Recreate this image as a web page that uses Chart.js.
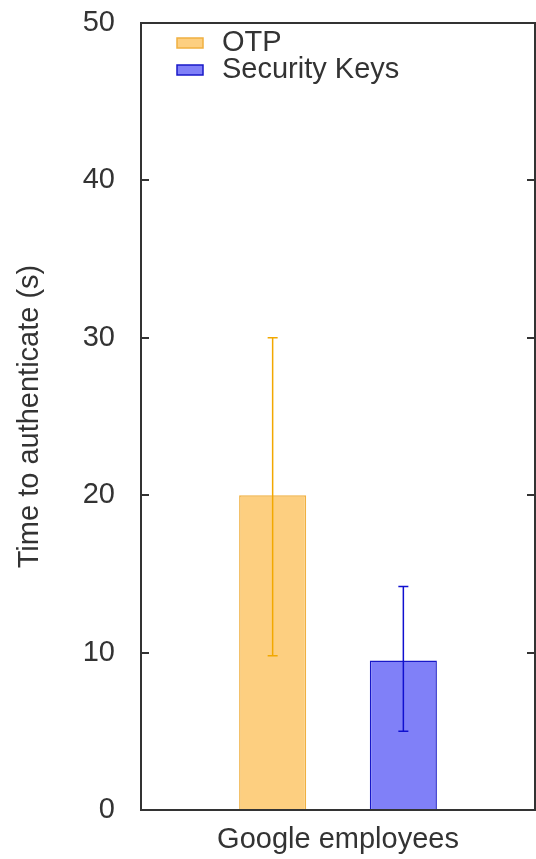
<!DOCTYPE html>
<html>
<head>
<meta charset="utf-8">
<script src="https://cdn.jsdelivr.net/npm/chart.js@4/dist/chart.umd.min.js"></script>
<style>
  html, body { margin: 0; padding: 0; background: #ffffff; overflow: hidden; }
  #c { display: block; }
</style>
</head>
<body>
<canvas id="c" width="536" height="859"></canvas>
<script>
// ---- data ----
const categories = ['Google employees'];
const seriesNames = ['OTP', 'Security Keys'];
const otpMean = [20];
const otpLow = [9.8];
const otpHigh = [30];
const keysMean = [9.5];
const keysLow = [5.0];
const keysHigh = [14.2];
const yTicks = [0, 10, 20, 30, 40, 50];

// ---- styles ----
const FONT = 'Liberation Sans, Arial, sans-serif';
const FS = 29;
const TEXT = '#333333';
const FRAME = '#333333';

const errorBars = [
  { low: otpLow, high: otpHigh, color: '#f2a800' },
  { low: keysLow, high: keysHigh, color: '#1010d0' }
];

const framePlugin = {
  id: 'frame',
  afterDatasetsDraw(chart) {
    const { ctx, chartArea: a, scales } = chart;
    const y = scales.y;
    // error bars
    chart.data.datasets.forEach((ds, i) => {
      const meta = chart.getDatasetMeta(i);
      const eb = errorBars[i];
      meta.data.forEach((bar, j) => {
        const x = bar.x;
        const yl = y.getPixelForValue(eb.low[j]);
        const yh = y.getPixelForValue(eb.high[j]);
        ctx.save();
        ctx.strokeStyle = eb.color;
        ctx.lineWidth = 1.5;
        ctx.beginPath();
        ctx.moveTo(x, yl); ctx.lineTo(x, yh);
        ctx.moveTo(x - 5, yl); ctx.lineTo(x + 5, yl);
        ctx.moveTo(x - 5, yh); ctx.lineTo(x + 5, yh);
        ctx.stroke();
        ctx.restore();
      });
    });
    // frame
    ctx.save();
    ctx.strokeStyle = FRAME;
    ctx.lineWidth = 2;
    ctx.strokeRect(a.left, a.top, a.right - a.left, a.bottom - a.top);
    // inward ticks
    ctx.beginPath();
    yTicks.forEach(v => {
      const py = Math.round(y.getPixelForValue(v));
      ctx.moveTo(a.left, py); ctx.lineTo(a.left + 8, py);
      ctx.moveTo(a.right, py); ctx.lineTo(a.right - 8, py);
    });
    ctx.stroke();
    // legend
    ctx.font = FS + 'px ' + FONT;
    ctx.textBaseline = 'middle';
    ctx.textAlign = 'left';
    chart.data.datasets.forEach((ds, i) => {
      const cy = a.top + 20 + i * 27;
      ctx.fillStyle = ds.backgroundColor;
      ctx.fillRect(a.left + 36, cy - 5, 26, 10);
      ctx.strokeStyle = ds.borderColor;
      ctx.lineWidth = 1.5;
      ctx.strokeRect(a.left + 36, cy - 5, 26, 10);
      ctx.fillStyle = TEXT;
      ctx.fillText(ds.label, a.left + 81, cy);
    });
    ctx.restore();
  }
};

new Chart(document.getElementById('c'), {
  type: 'bar',
  data: {
    labels: categories,
    datasets: [
      {
        label: seriesNames[0],
        data: otpMean,
        backgroundColor: '#fdcf80',
        borderColor: '#f0b040',
        borderWidth: 1.5,
        categoryPercentage: 0.6635,
        barPercentage: 0.513
      },
      {
        label: seriesNames[1],
        data: keysMean,
        backgroundColor: '#8080f8',
        borderColor: '#1818c8',
        borderWidth: 1.5,
        categoryPercentage: 0.6635,
        barPercentage: 0.513
      }
    ]
  },
  options: {
    responsive: false,
    animation: false,
    devicePixelRatio: 1,
    layout: { padding: { top: 23, right: 1, left: 0, bottom: 0 } },
    plugins: {
      legend: { display: false },
      tooltip: { enabled: false },
      title: { display: false }
    },
    scales: {
      x: {
        grid: { display: false, drawTicks: false },
        border: { display: false },
        ticks: { color: TEXT, font: { family: FONT, size: FS }, padding: 13 },
        afterFit(s) { s.height = 49; s.paddingLeft = 0; s.paddingRight = 0; }
      },
      y: {
        min: 0,
        max: 50,
        afterBuildTicks(s) { s.ticks = yTicks.map(v => ({ value: v })); },
        grid: { display: false, drawTicks: false },
        border: { display: false },
        ticks: { color: TEXT, font: { family: FONT, size: FS }, padding: 26 },
        title: {
          display: true,
          text: 'Time to authenticate (s)',
          color: TEXT,
          font: { family: FONT, size: FS, lineHeight: 1.2 },
          padding: { top: 13, bottom: 0 }
        },
        afterFit(s) { s.width = 141; s.paddingTop = 0; s.paddingBottom = 0; }
      }
    }
  },
  plugins: [framePlugin]
});
</script>
</body>
</html>
